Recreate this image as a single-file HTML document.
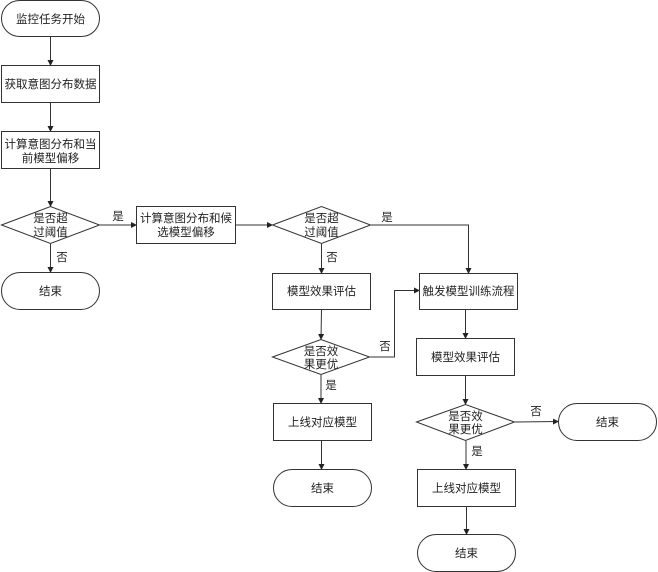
<!DOCTYPE html>
<html><head><meta charset="utf-8"><style>
html,body{margin:0;padding:0;background:#fff;}
svg{display:block;}
text{font-family:"Liberation Sans","Noto Sans CJK SC",sans-serif;font-size:11.5px;fill:#222;}
</style></head><body>
<svg width="658" height="572" viewBox="0 0 658 572" xmlns="http://www.w3.org/2000/svg">
<defs><marker id="a" markerWidth="6" markerHeight="6" refX="5" refY="3" orient="auto" markerUnits="userSpaceOnUse"><path d="M0,0 L6,3 L0,6 z" fill="#222"/></marker></defs>
<g fill="#fff" stroke="#333" stroke-width="1">
<rect x="1.5" y="0.5" width="98" height="36" rx="18"/>
<rect x="1.5" y="65.5" width="98" height="37"/>
<rect x="1.5" y="131.5" width="98" height="37"/>
<polygon points="1.5,225 50.5,206.5 99.5,225 50.5,243.5"/>
<rect x="1.5" y="272.5" width="98" height="37" rx="18.5"/>
<rect x="136.5" y="206.5" width="99" height="37"/>
<polygon points="272.5,225 321.5,206.5 370.5,225 321.5,243.5"/>
<rect x="272.5" y="273.5" width="98" height="36"/>
<polygon points="272.5,357 321,339.5 369.5,357 321,374.5"/>
<rect x="273.5" y="403.5" width="98" height="37"/>
<rect x="273.5" y="469.5" width="98" height="37" rx="18.5"/>
<rect x="419.5" y="273.5" width="98" height="36"/>
<rect x="416.5" y="338.5" width="98" height="37"/>
<polygon points="416.5,422 465.5,404.5 514.5,422 465.5,440.5"/>
<rect x="558.5" y="403.5" width="98" height="37" rx="18.5"/>
<rect x="417.5" y="469.5" width="98" height="37"/>
<rect x="417.5" y="534.5" width="98" height="37" rx="18.5"/>
</g>
<g fill="none" stroke="#333" stroke-width="1" marker-end="url(#a)">
<path d="M50.5,37 V65"/>
<path d="M50.5,103 V131"/>
<path d="M50.5,169 V206"/>
<path d="M50.5,244 V272"/>
<path d="M100,225 H136"/>
<path d="M236,225 H272"/>
<path d="M321.5,244 V273"/>
<path d="M321.5,310 L321,339"/>
<path d="M321,375 V403"/>
<path d="M321.5,441 V469"/>
<path d="M371,225 H468.5 V273"/>
<path d="M370,357 H394.5 V290.5 H419"/>
<path d="M465.5,310 V338"/>
<path d="M465.5,376 V404"/>
<path d="M515,422 L558,421.5"/>
<path d="M466,441 V469"/>
<path d="M466.5,507 V534"/>
</g>
<g text-anchor="middle">
<text x="50.5" y="23">监控任务开始</text>
<text x="50.5" y="88">获取意图分布数据</text>
<text x="50.5" y="148">计算意图分布和当</text>
<text x="50.5" y="162">前模型偏移</text>
<text x="50.5" y="222">是否超</text>
<text x="50.5" y="236">过阈值</text>
<text x="50.5" y="295">结束</text>
<text x="186" y="222">计算意图分布和候</text>
<text x="186" y="236">选模型偏移</text>
<text x="321.5" y="222">是否超</text>
<text x="321.5" y="236">过阈值</text>
<text x="321.5" y="295">模型效果评估</text>
<text x="321" y="355">是否效</text>
<text x="321" y="368">果更优</text>
<text x="322.5" y="426">上线对应模型</text>
<text x="322.5" y="492">结束</text>
<text x="468.5" y="295">触发模型训练流程</text>
<text x="465.5" y="361">模型效果评估</text>
<text x="465.5" y="420">是否效</text>
<text x="465.5" y="433">果更优</text>
<text x="607.5" y="426">结束</text>
<text x="466.5" y="492">上线对应模型</text>
<text x="466.5" y="557">结束</text>
<text x="118" y="220">是</text>
<text x="62" y="261">否</text>
<text x="387" y="221">是</text>
<text x="332" y="261">否</text>
<text x="385" y="350">否</text>
<text x="331" y="389">是</text>
<text x="536" y="415">否</text>
<text x="477" y="455">是</text>
</g>
</svg>
</body></html>
